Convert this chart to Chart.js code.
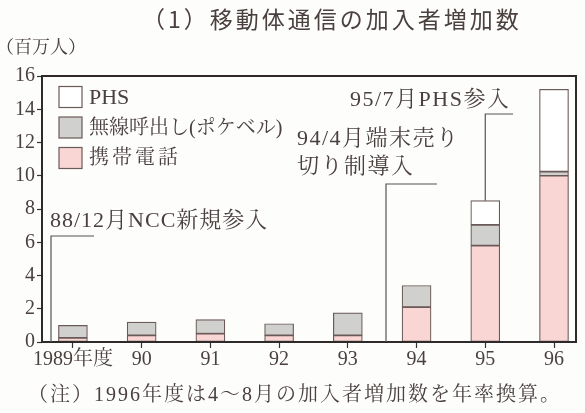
<!DOCTYPE html>
<html lang="ja">
<head>
<meta charset="utf-8">
<script src="https://cdn.jsdelivr.net/npm/chart.js@4/dist/chart.umd.min.js"></script>
<style>
  html, body { margin: 0; padding: 0; background: #fdfdfb; }
  #wrap { position: relative; width: 585px; height: 413px; }
</style>
</head>
<body>
<div id="wrap"><canvas id="c" width="585" height="413"></canvas></div>
<script>
// 年度ラベル
const years = ['1989年度', '90', '91', '92', '93', '94', '95', '96'];
// 加入者増加数（百万人）
const cellular = [0.25, 0.4, 0.5, 0.4, 0.4, 2.1, 5.8, 10.0];   // 携帯電話
const pager    = [0.75, 0.8, 0.85, 0.7, 1.35, 1.3, 1.25, 0.25]; // 無線呼出し
const phs      = [0, 0, 0, 0, 0, 0, 1.45, 4.95];                 // PHS
const yTicks = [0, 2, 4, 6, 8, 10, 12, 14, 16];

const SERIF = '"Liberation Serif", "Noto Serif CJK JP", "Noto Sans CJK JP", serif';
const GOTHIC = '"Noto Sans CJK JP", sans-serif';
const INK = '#4a4040';
const EDGE = '#6a5a58';

const pts = arr => arr.map((v, i) => ({ x: i, y: v }));

// 文字間を指定してテキストを描く
function text(ctx, str, x, y, font, spacing) {
  ctx.font = font;
  ctx.letterSpacing = (spacing || 0) + 'px';
  ctx.fillText(str, x, y);
  ctx.letterSpacing = '0px';
}

// 枠・凡例・注記・見出しを描く
const decor = {
  id: 'decor',
  afterDraw(chart) {
    const { ctx, chartArea: a, scales: { x, y } } = chart;
    ctx.save();
    // プロット枠
    ctx.strokeStyle = '#2e2a2a';
    ctx.lineWidth = 2;
    ctx.strokeRect(a.left, a.top, a.right - a.left, a.bottom - a.top);

    ctx.fillStyle = INK;
    ctx.textBaseline = 'middle';
    ctx.textAlign = 'left';
    // 見出し
    text(ctx, '（1）移動体通信の加入者増加数', 142, 19, '23px ' + GOTHIC, 3);
    // 単位
    text(ctx, '（百万人）', -4, 48, '18px ' + SERIF, 0);
    // 注
    text(ctx, '（注）1996年度は4～8月の加入者増加数を年率換算。', 28, 396, '20px ' + SERIF, 2);

    // 凡例
    const legend = [
      ['PHS', '#ffffff', 0, 22],
      ['無線呼出し(ポケベル)', '#d0d0ce', 0, 20],
      ['携帯電話', '#f9d6d3', 3, 20]
    ];
    legend.forEach((item, i) => {
      const cy = 97 + i * 30.5;
      ctx.fillStyle = item[1];
      ctx.fillRect(59, cy - 10.5, 23, 21);
      ctx.strokeStyle = EDGE;
      ctx.lineWidth = 1.2;
      ctx.strokeRect(59, cy - 10.5, 23, 21);
      ctx.fillStyle = INK;
      text(ctx, item[0], 89, cy + 1, item[3] + 'px ' + SERIF, item[2]);
    });

    // 引き出し線と注記
    ctx.strokeStyle = '#555';
    ctx.lineWidth = 1.2;
    const line = (p) => {
      ctx.beginPath();
      ctx.moveTo(p[0][0], p[0][1]);
      for (let k = 1; k < p.length; k++) ctx.lineTo(p[k][0], p[k][1]);
      ctx.stroke();
    };
    const yb = y.getPixelForValue(0);
    line([[51, yb], [51, 236], [94, 236]]);
    line([[386, yb], [386, 184], [437, 184]]);
    const x95 = x.getPixelForValue(6);
    const top95 = y.getPixelForValue(cellular[6] + pager[6] + phs[6]);
    line([[x95, top95], [x95, 114], [513, 114]]);

    ctx.fillStyle = INK;
    const af = '22px ' + SERIF;
    text(ctx, '88/12月NCC新規参入', 50, 221, af, 1);
    text(ctx, '94/4月端末売り', 297, 139, af, 1.5);
    text(ctx, '切り制導入', 297, 167, af, 1.5);
    text(ctx, '95/7月PHS参入', 350, 100, af, 1.5);
    ctx.restore();
  }
};

new Chart(document.getElementById('c'), {
  type: 'bar',
  data: {
    datasets: [
      { label: '携帯電話', data: pts(cellular), backgroundColor: '#f9d6d3' },
      { label: '無線呼出し(ポケベル)', data: pts(pager), backgroundColor: '#d0d0ce' },
      { label: 'PHS', data: pts(phs), backgroundColor: '#ffffff' }
    ].map(d => Object.assign(d, {
      borderColor: EDGE, borderWidth: 1.2, borderSkipped: false,
      barThickness: 29, grouped: false
    }))
  },
  options: {
    responsive: false,
    animation: false,
    layout: { padding: { left: 0, right: 9, top: 76, bottom: 0 } },
    plugins: { legend: { display: false }, tooltip: { enabled: false } },
    scales: {
      x: {
        type: 'linear',
        stacked: true,
        offset: false,
        min: -0.45,
        max: 7.32,
        afterBuildTicks: s => { s.ticks = years.map((_, i) => ({ value: i })); },
        afterFit: s => { s.height = 71; },
        grid: { drawOnChartArea: false, tickLength: 6, color: '#333', tickWidth: 1.2, offset: false },
        border: { display: false },
        ticks: {
          callback: v => years[v],
          color: INK,
          font: { family: SERIF, size: 20 },
          padding: 0,
          maxRotation: 0,
          autoSkip: false
        }
      },
      y: {
        stacked: true,
        min: 0,
        max: 16,
        afterBuildTicks: s => { s.ticks = yTicks.map(v => ({ value: v })); },
        afterFit: s => { s.width = 42; },
        grid: { drawOnChartArea: false, tickLength: 5, color: '#333', tickWidth: 1.2 },
        border: { display: false },
        ticks: {
          color: INK,
          font: { family: SERIF, size: 20 },
          padding: 2
        }
      }
    }
  },
  plugins: [decor]
});
</script>
</body>
</html>
